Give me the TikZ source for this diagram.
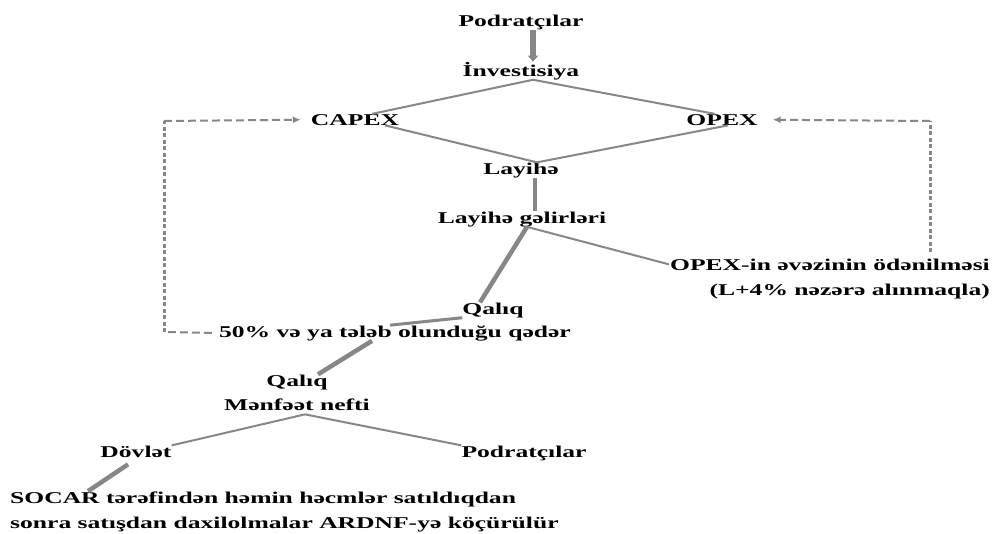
\documentclass[tikz,border=0pt]{standalone}
\usepackage{fontspec}
\newfontfamily\df{Liberation Serif}[FakeStretch=1.55]
\usetikzlibrary{arrows.meta}
\definecolor{lg}{RGB}{135,135,135}
\begin{document}
\begin{tikzpicture}[x=1pt,y=-1pt,
  lbl/.style={font=\df\bfseries\fontsize{16.5}{25}\selectfont, inner sep=0pt, anchor=base},
  thinln/.style={draw=lg, line width=2pt},
  medln/.style={draw=lg, line width=3pt},
  thickln/.style={draw=lg, line width=4.5pt},
  dashh/.style={draw=lg, line width=2pt, dash pattern=on 8pt off 4pt},
  dashv/.style={draw=lg, line width=3pt, dash pattern=on 4pt off 2.5pt},
  tipa/.style={-{Latex[length=8pt,width=7pt]}}
]
\useasboundingbox (0,0) rectangle (992,533);
\fill[white] (0,0) rectangle (992,533);

\node[lbl] (pod1) at (521,26) {Podratçılar};
\node[lbl] (inv) at (521,76) {İnvestisiya};
\node[lbl] (capex) at (355,125) {CAPEX};
\node[lbl] (opex) at (722,125) {OPEX};
\node[lbl] (lay) at (521,174) {Layihə};
\node[lbl] (lgl) at (522,223) {Layihə gəlirləri};
\node[lbl, anchor=base east, align=right] (opexpay) at (990,295) {OPEX-in əvəzinin ödənilməsi\\(L+4\% nəzərə alınmaqla)};
\node[lbl] (q1) at (493,314) {Qalıq};
\node[lbl] (pct) at (395,337) {50\% və ya tələb olunduğu qədər};
\node[lbl] (q2) at (297,386) {Qalıq};
\node[lbl] (mn) at (297,410) {Mənfəət nefti};
\node[lbl] (dov) at (136,457) {Dövlət};
\node[lbl] (pod2) at (524,457) {Podratçılar};
\node[lbl, anchor=base west, align=left] (soc) at (10,528) {SOCAR tərəfindən həmin həcmlər satıldıqdan\\sonra satışdan daxilolmalar ARDNF-yə köçürülür};

\coordinate (dtop) at ([xshift=12pt]inv.south);
\coordinate (dbot) at ([xshift=16pt]lay.north);
\coordinate (lgv) at ([xshift=5pt]lgl.south);
\coordinate (mnv) at ([xshift=8pt,yshift=-4pt]mn.south);
\coordinate (dlb) at (164,332);
\coordinate (dlt) at (164,121);
\coordinate (drb) at (930,252);
\coordinate (drt) at (930,121);

% top arrow
\draw[draw=lg, line width=5.5pt, -{Triangle[length=6pt,width=10pt]}] ([xshift=12pt]pod1.south) -- ([xshift=12pt]inv.north);

% diamond
\draw[thinln] ([xshift=17pt]capex.north) -- (dtop) -- ([xshift=-7pt]opex.north);
\draw[thinln] ([xshift=30pt]capex.south) -- (dbot) -- ([xshift=6pt]opex.south);

\draw[thickln] ([xshift=14pt]lay.south) -- ([xshift=13pt]lgl.north);
\draw[thickln] (lgv) -- ([xshift=-13pt]q1.north);
\draw[thinln] (lgv) -- ([xshift=-1pt,yshift=-6pt]opexpay.north west);

\draw[medln] (q1.south west) -- ([xshift=-5pt]pct.north);
\draw[thickln] ([xshift=-23pt]pct.south) -- ([xshift=21pt]q2.north);

\draw[thinln] (dov.north east) -- (mnv) -- (pod2.north west);
\draw[thickln] ([xshift=-8pt,yshift=-7pt]dov.south) -- ([xshift=78pt]soc.north west);

% dashed feedback
\draw[dashh, shorten <=7pt] (pct.west) -- (dlb);
\draw[dashv] (dlb) -- (dlt);
\draw[dashh, tipa, shorten >=10pt] (dlt) -- (capex.west);
\draw[dashv] (drb) -- (drt);
\draw[dashh, tipa, shorten >=15pt] (drt) -- (opex.east);
\end{tikzpicture}
\end{document}
